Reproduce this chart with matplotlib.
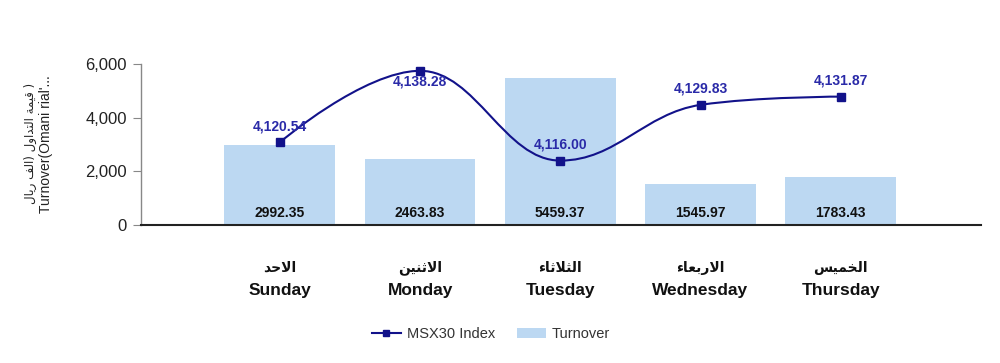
import matplotlib

matplotlib.use("Agg")

import matplotlib.pyplot as plt
import numpy as np
from matplotlib.lines import Line2D
from matplotlib.patches import Patch, PathPatch
from matplotlib.path import Path
from matplotlib.ticker import FuncFormatter

DAYS_EN = ["Sunday", "Monday", "Tuesday", "Wednesday", "Thursday"]
DAYS_AR = ["الاحد", "الاثنين", "الثلاثاء", "الاربعاء", "الخميس"]
TURNOVER = [2992.35, 2463.83, 5459.37, 1545.97, 1783.43]
MSX30 = [4120.54, 4138.28, 4116.00, 4129.83, 4131.87]
Y_TICKS = [0, 2000, 4000, 6000]
Y_LABEL_AR = "( قيمة التداول (الف ريال"
Y_LABEL_EN = "Turnover(Omani rial'..."

BAR_COLOR = "#bcd8f2"
LINE_COLOR = "#12128a"

# isolated, final, initial, medial presentation forms
FORMS = {
    "ء": ("\ufe80", None, None, None),
    "ا": ("\ufe8d", "\ufe8e", None, None),
    "ب": ("\ufe8f", "\ufe90", "\ufe91", "\ufe92"),
    "ة": ("\ufe93", "\ufe94", None, None),
    "ت": ("\ufe95", "\ufe96", "\ufe97", "\ufe98"),
    "ث": ("\ufe99", "\ufe9a", "\ufe9b", "\ufe9c"),
    "ح": ("\ufea1", "\ufea2", "\ufea3", "\ufea4"),
    "خ": ("\ufea5", "\ufea6", "\ufea7", "\ufea8"),
    "د": ("\ufea9", "\ufeaa", None, None),
    "ر": ("\ufead", "\ufeae", None, None),
    "س": ("\ufeb1", "\ufeb2", "\ufeb3", "\ufeb4"),
    "ع": ("\ufec9", "\ufeca", "\ufecb", "\ufecc"),
    "ف": ("\ufed1", "\ufed2", "\ufed3", "\ufed4"),
    "ق": ("\ufed5", "\ufed6", "\ufed7", "\ufed8"),
    "ل": ("\ufedd", "\ufede", "\ufedf", "\ufee0"),
    "م": ("\ufee1", "\ufee2", "\ufee3", "\ufee4"),
    "ن": ("\ufee5", "\ufee6", "\ufee7", "\ufee8"),
    "و": ("\ufeed", "\ufeee", None, None),
    "ي": ("\ufef1", "\ufef2", "\ufef3", "\ufef4"),
    "لا": ("\ufefb", "\ufefc", None, None),
}
MIRROR = {"(": ")", ")": "("}


def shape_arabic(text):
    # join letters into presentation forms, then reverse for left-to-right drawing
    units = []
    i = 0
    while i < len(text):
        if text[i] == "ل" and i + 1 < len(text) and text[i + 1] == "ا":
            units.append("لا")
            i += 2
        else:
            units.append(text[i])
            i += 1
    out = []
    for k, u in enumerate(units):
        if u not in FORMS:
            out.append(MIRROR.get(u, u))
            continue
        prev = units[k - 1] if k > 0 else None
        nxt = units[k + 1] if k + 1 < len(units) else None
        joins_prev = prev in FORMS and FORMS[prev][2] is not None and FORMS[u][1] is not None
        joins_next = nxt in FORMS and FORMS[u][2] is not None and FORMS[nxt][1] is not None
        iso, fin, ini, med = FORMS[u]
        if joins_prev and joins_next:
            out.append(med)
        elif joins_prev:
            out.append(fin)
        elif joins_next:
            out.append(ini)
        else:
            out.append(iso)
    return "".join(reversed(out))


def spline_path(xs, ys, smoothing=1.5):
    # Highcharts-like spline with control points
    n = len(xs)
    left = [(xs[i], ys[i]) for i in range(n)]
    right = [(xs[i], ys[i]) for i in range(n)]
    denom = smoothing + 1
    for i in range(1, n - 1):
        px, py = xs[i], ys[i]
        lx, ly = xs[i - 1], ys[i - 1]
        nx, ny = xs[i + 1], ys[i + 1]
        lcx = (smoothing * px + lx) / denom
        lcy = (smoothing * py + ly) / denom
        rcx = (smoothing * px + nx) / denom
        rcy = (smoothing * py + ny) / denom
        corr = (rcy - lcy) * (rcx - px) / (rcx - lcx) + py - rcy
        lcy += corr
        rcy += corr
        if lcy > ly and lcy > py:
            lcy = max(ly, py)
            rcy = 2 * py - lcy
        elif lcy < ly and lcy < py:
            lcy = min(ly, py)
            rcy = 2 * py - lcy
        if rcy > ny and rcy > py:
            rcy = max(ny, py)
            lcy = 2 * py - rcy
        elif rcy < ny and rcy < py:
            rcy = min(ny, py)
            lcy = 2 * py - rcy
        left[i] = (lcx, lcy)
        right[i] = (rcx, rcy)
    verts = [(xs[0], ys[0])]
    codes = [Path.MOVETO]
    for i in range(1, n):
        verts += [right[i - 1], left[i], (xs[i], ys[i])]
        codes += [Path.CURVE4] * 3
    return Path(verts, codes)


plt.rcParams["font.family"] = ["Liberation Sans", "DejaVu Sans"]

fig = plt.figure(figsize=(10, 3.63), dpi=100)
ax = fig.add_axes([0.141, 0.380, 0.840, 0.444])
x = np.arange(len(DAYS_EN))

bars = ax.bar(x, TURNOVER, width=0.79, color=BAR_COLOR, zorder=2)
for xi, v in zip(x, TURNOVER):
    ax.annotate(f"{v:.2f}", (xi, 0), xytext=(0, 4), textcoords="offset points",
                ha="center", va="bottom", fontsize=10, fontweight="bold", color="#111111", zorder=3)

ax.set_xlim(-0.99, 5.0)
ax.set_ylim(0, 6000)
ax.set_yticks(Y_TICKS)
ax.yaxis.set_major_formatter(FuncFormatter(lambda v, _: f"{v:,.0f}"))
ax.tick_params(axis="y", labelsize=12, length=6, color="#888888", labelcolor="#222222", pad=4)
ax.set_xticks([])
for side in ["top", "right"]:
    ax.spines[side].set_visible(False)
ax.spines["left"].set_color("#888888")
ax.spines["left"].set_linewidth(1.0)
ax.spines["bottom"].set_color("#222222")
ax.spines["bottom"].set_linewidth(1.5)

for xi, en, ar in zip(x, DAYS_EN, DAYS_AR):
    ax.text(xi, -0.265, shape_arabic(ar), transform=ax.get_xaxis_transform(),
            ha="center", va="center", fontsize=10, fontweight="bold", color="#111111",
            family="DejaVu Sans")
    ax.text(xi, -0.405, en, transform=ax.get_xaxis_transform(),
            ha="center", va="center", fontsize=12.5, fontweight="bold", color="#111111")

fig.text(0.030, 0.604, shape_arabic(Y_LABEL_AR), rotation=90, ha="center", va="center",
         fontsize=8.5, color="#222222", family="DejaVu Sans")
fig.text(0.046, 0.604, Y_LABEL_EN, rotation=90, ha="center", va="center",
         fontsize=10, color="#222222")

ax2 = ax.twinx()
ax2.set_ylim(4100, 4140)
ax2.axis("off")
ax2.add_patch(PathPatch(spline_path(list(x), MSX30), facecolor="none",
                        edgecolor=LINE_COLOR, linewidth=1.5, zorder=4))
ax2.plot(x, MSX30, linestyle="none", marker="s", markersize=5.5, color=LINE_COLOR, zorder=5)
for i, (xi, v) in enumerate(zip(x, MSX30)):
    dy = -8 if v == max(MSX30) else 11.5
    ax2.annotate(f"{v:,.2f}", (xi, v), xytext=(0, dy), textcoords="offset points",
                 ha="center", va="center", fontsize=10, fontweight="bold", color="#2a2aa8", zorder=6)

handles = [
    Line2D([], [], color=LINE_COLOR, linewidth=1.5, marker="s", markersize=5),
    Patch(facecolor=BAR_COLOR, edgecolor="none"),
]
fig.legend(handles, ["MSX30 Index", "Turnover"], loc="center", bbox_to_anchor=(0.491, 0.08),
           ncol=2, frameon=False, fontsize=10.5, handlelength=2.0, handletextpad=0.4,
           columnspacing=1.5, labelcolor="#333333")

fig.savefig("out.png", dpi=100, facecolor="white")
